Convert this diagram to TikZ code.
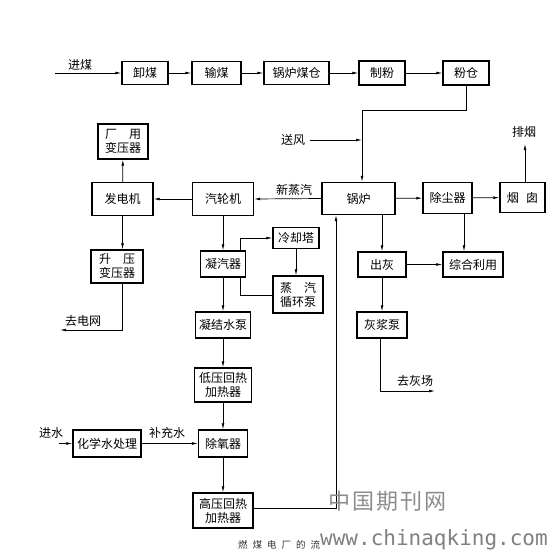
\documentclass[tikz,border=0pt]{standalone}
\usepackage{fontspec}
\newfontfamily\cjk{Noto Sans CJK SC}
\newfontfamily\wmono{DejaVu Sans Mono}
\usetikzlibrary{arrows.meta}
\begin{document}
\begin{tikzpicture}[x=1pt,y=-1pt,
 box/.style 2 args={draw,line width=1.3pt,minimum width=#1pt,minimum height=#2pt,inner sep=0pt,align=center,font=\cjk\fontsize{12}{14}\selectfont},
 lbl/.style={font=\cjk\fontsize{12}{14}\selectfont,inner sep=0pt},
 conn/.style={line width=0.7pt},
 arr/.style={conn,-{Latex[length=6pt,width=2.8pt]}}]
\useasboundingbox[fill=white] (0,0) rectangle (555,560);
% top row
\node[box={46}{23}] (xie) at (145,73) {卸煤};
\node[box={49}{23}] (shu) at (216.5,73) {输煤};
\node[box={65}{23}] (cang) at (296.5,73) {锅炉煤仓};
\node[box={46}{24}] (zhi) at (382,73) {制粉};
\node[box={46}{24}] (fen) at (466,73) {粉仓};
% middle
\node[box={50}{35}] (cyb) at (123,141.5) {厂\hspace{1em}用\\变压器};
\node[box={61}{33}] (fd) at (122.5,199) {发电机};
\node[box={61}{33}] (ql) at (223,199) {汽轮机};
\node[box={73}{32}] (gl) at (358.5,198.5) {锅炉};
\node[box={49}{31}] (cc) at (447.5,198) {除尘器};
\node[box={45}{30}] (yc) at (522.5,197.5) {烟\hspace{0.6em}囱};
\node[box={46}{21}] (lq) at (296,238) {冷却塔};
\node[box={45}{26}] (nq) at (223,264) {凝汽器};
\node[box={50}{37}] (zq) at (298,294.5) {蒸\hspace{1em}汽\\循环泵};
\node[box={52}{33}] (sy) at (117,266.5) {升\hspace{1em}压\\变压器};
\node[box={48}{25}] (ch) at (382,264.5) {出灰};
\node[box={60}{25}] (zh) at (473,264.5) {综合利用};
\node[box={55}{26}] (nj) at (223,325) {凝结水泵};
\node[box={50}{26}] (hj) at (382,325) {灰浆泵};
\node[box={57}{34}] (dy) at (223,385) {低压回热\\加热器};
\node[box={49}{27}] (cyq) at (223,443.5) {除氧器};
\node[box={68}{27}] (hx) at (107,443.5) {化学水处理};
\node[box={60}{35}] (gy) at (223,510.5) {高压回热\\加热器};
% labels
\node[lbl] (jm) at (80,65) {进煤};
\node[lbl] (sf) at (293,140) {送风};
\node[lbl] (xzq) at (294,190) {新蒸汽};
\node[lbl] (py) at (524,132) {排烟};
\node[lbl] (qdw) at (83,321) {去电网};
\node[lbl] (js) at (51,433) {进水};
\node[lbl] (bcs) at (167,433) {补充水};
\node[lbl] (qhc) at (415,381) {去灰场};
% coal line
\coordinate (in) at (55,73);
\draw[arr] (in) -- (xie.west);
\draw[arr] (xie) -- (shu);
\draw[arr] (shu) -- (cang);
\draw[arr] (cang) -- (zhi);
\draw[arr] (zhi) -- (fen);
\coordinate (c1) at (466,110);
\coordinate (c2) at (362,110);
\draw[arr] (fen.south) -- (c1) -- (c2) -- (c2 |- gl.north);
\coordinate (sfs) at (310,140);
\coordinate (sfe) at (362,140);
\draw[arr] (sfs) -- (sfe);
% steam / power
\draw[arr] (gl.west) -- (ql.east);
\draw[arr] (ql) -- (fd);
\draw[arr] (fd) -- (cyb);
\draw[arr] (fd.south) -- (fd.south |- sy.north);
\coordinate (g1) at (122,330);
\coordinate (g2) at (60,330);
\draw[arr] (sy.south -| g1) -- (g1) -- (g2);
% condenser loop
\draw[arr] (ql) -- (nq);
\coordinate (k1) at (240,238);
\draw[arr] (nq.north -| k1) -- (k1) -- (lq.west);
\draw[arr] (lq.south) -- (lq.south |- zq.north);
\coordinate (k2) at (240,295);
\draw[conn] (nq.south -| k2) -- (k2) -- (zq.west |- k2);
% feed water
\draw[arr] (nq) -- (nj);
\draw[arr] (nj) -- (dy);
\draw[arr] (dy) -- (cyq);
\draw[arr] (cyq) -- (gy);
\coordinate (w0) at (59,443.5);
\draw[arr] (w0) -- (hx.west);
\draw[arr] (hx) -- (cyq);
\coordinate (h1) at (336,508);
\draw[arr] (gy.east |- h1) -- (h1) -- (h1 |- gl.south);
% flue gas / ash
\draw[arr] (gl) -- (cc);
\draw[arr] (cc) -- (yc);
\coordinate (pyb) at (525,144);
\draw[arr] (yc.north -| pyb) -- (pyb);
\draw[arr] (gl.south -| ch.north) -- (ch.north);
\coordinate (d1) at (464,240);
\draw[arr] (cc.south -| d1) -- (zh.north -| d1);
\draw[arr] (ch) -- (zh);
\draw[arr] (ch) -- (hj);
\coordinate (e1) at (380,391);
\coordinate (e2) at (435,391);
\draw[arr] (hj.south -| e1) -- (e1) -- (e2);
% caption and watermark
\node[font=\cjk\fontsize{9.5}{10}\selectfont,anchor=west,text=black!80,inner sep=0pt] (cap) at (238,545) {燃\hspace{5pt}煤\hspace{5pt}电\hspace{5pt}厂\hspace{5pt}的\hspace{5pt}流};
\node[font=\cjk\fontsize{22}{24}\selectfont,text=black!45,anchor=west,inner sep=0pt] (wm1) at (328,501) {中\hspace{2pt}国\hspace{2pt}期\hspace{2pt}刊\hspace{2pt}网};
\node[font=\wmono\fontsize{21}{22}\selectfont,text=black!50,anchor=west,inner sep=0pt] (wm2) at (320,540) {www.chinaqking.com};
\end{tikzpicture}
\end{document}
